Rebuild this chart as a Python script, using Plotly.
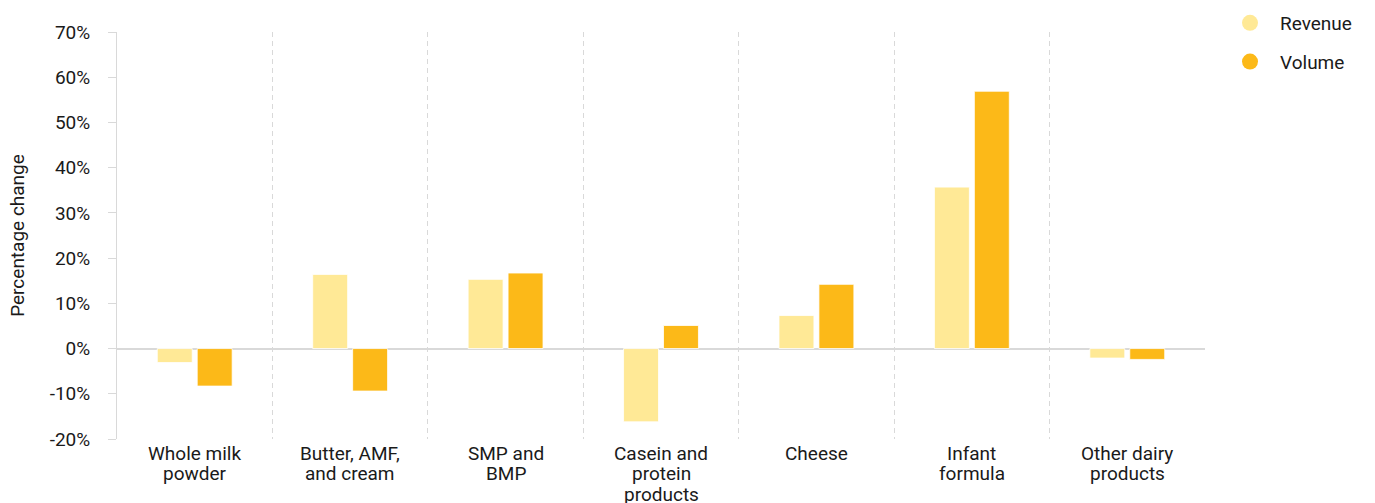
import plotly.graph_objects as go

# Dairy export categories (line breaks as printed under the axis)
categories = [
    "Whole milk<br>powder",
    "Butter, AMF,<br>and cream",
    "SMP and<br>BMP",
    "Casein and<br>protein<br>products",
    "Cheese",
    "Infant<br>formula",
    "Other dairy<br>products",
]
keys = ["wmp", "butter", "smp", "casein", "cheese", "infant", "other"]

# Percentage change by category
revenue = [-3.1, 16.4, 15.3, -16.2, 7.3, 35.7, -2.1]
volume = [-8.3, -9.4, 16.7, 5.1, 14.2, 56.9, -2.4]

y_ticks = [-20, -10, 0, 10, 20, 30, 40, 50, 60, 70]
y_tick_labels = ["-20%", "-10%", "0%", "10%", "20%", "30%", "40%", "50%", "60%", "70%"]

REV_COLOR = "#FFE996"
VOL_COLOR = "#FCB918"
GRID = "#D9D9D9"
FONT = "Roboto"
TEXT = "#1a1a1a"
FS = 19

fig = go.Figure()
fig.add_trace(go.Bar(x=keys, y=revenue, name="Revenue", marker_color=REV_COLOR,
                     marker_line=dict(color="white", width=0.8), showlegend=False))
fig.add_trace(go.Bar(x=keys, y=volume, name="Volume", marker_color=VOL_COLOR,
                     marker_line=dict(color="white", width=0.8), showlegend=False))

# Circular legend markers
for name, col in [("Revenue", REV_COLOR), ("Volume", VOL_COLOR)]:
    fig.add_trace(go.Scatter(x=[None], y=[None], mode="markers", name=name,
                             legendgroup=name,
                             marker=dict(symbol="circle", size=19, color=col)))

# Category labels beneath the plot, one annotation per line
for key, label in zip(keys, categories):
    for i, line in enumerate(label.split("<br>")):
        fig.add_annotation(x=key, xref="x", y=0, yref="paper", text=line,
                           showarrow=False, yanchor="middle", xanchor="center",
                           yshift=-(14 + 20.5 * i),
                           font=dict(family=FONT, size=FS, color=TEXT))

fig.update_layout(
    width=1375, height=503,
    margin=dict(l=117, r=170, t=32, b=64),
    paper_bgcolor="white", plot_bgcolor="white",
    barmode="group", bargap=0.486, bargroupgap=0.125,
    font=dict(family=FONT, size=FS, color=TEXT),
    legend=dict(xref="container", yref="container",
                x=1220 / 1375, xanchor="left", y=1 - 4 / 503, yanchor="top",
                traceorder="grouped", tracegroupgap=11,
                font=dict(family=FONT, size=FS, color=TEXT),
                itemwidth=50, bgcolor="rgba(0,0,0,0)"),
    xaxis=dict(type="category", tickson="boundaries", showgrid=True,
               gridcolor=GRID, griddash="5px,4px", gridwidth=1,
               showticklabels=False, ticks="", showline=False,
               zeroline=False),
    yaxis=dict(range=[-20, 70], tickmode="array", tickvals=y_ticks,
               ticktext=y_tick_labels,
               showgrid=False, zeroline=True, zerolinecolor=GRID,
               zerolinewidth=1.6, showline=True, linecolor=GRID, linewidth=1,
               ticks="outside", ticklen=8, tickcolor=GRID,
               ticklabelstandoff=14,
               tickfont=dict(family=FONT, size=FS, color=TEXT),
               title=dict(text="Percentage change", standoff=20,
                          font=dict(family=FONT, size=FS, color=TEXT))),
)

fig.write_html("out.html")
